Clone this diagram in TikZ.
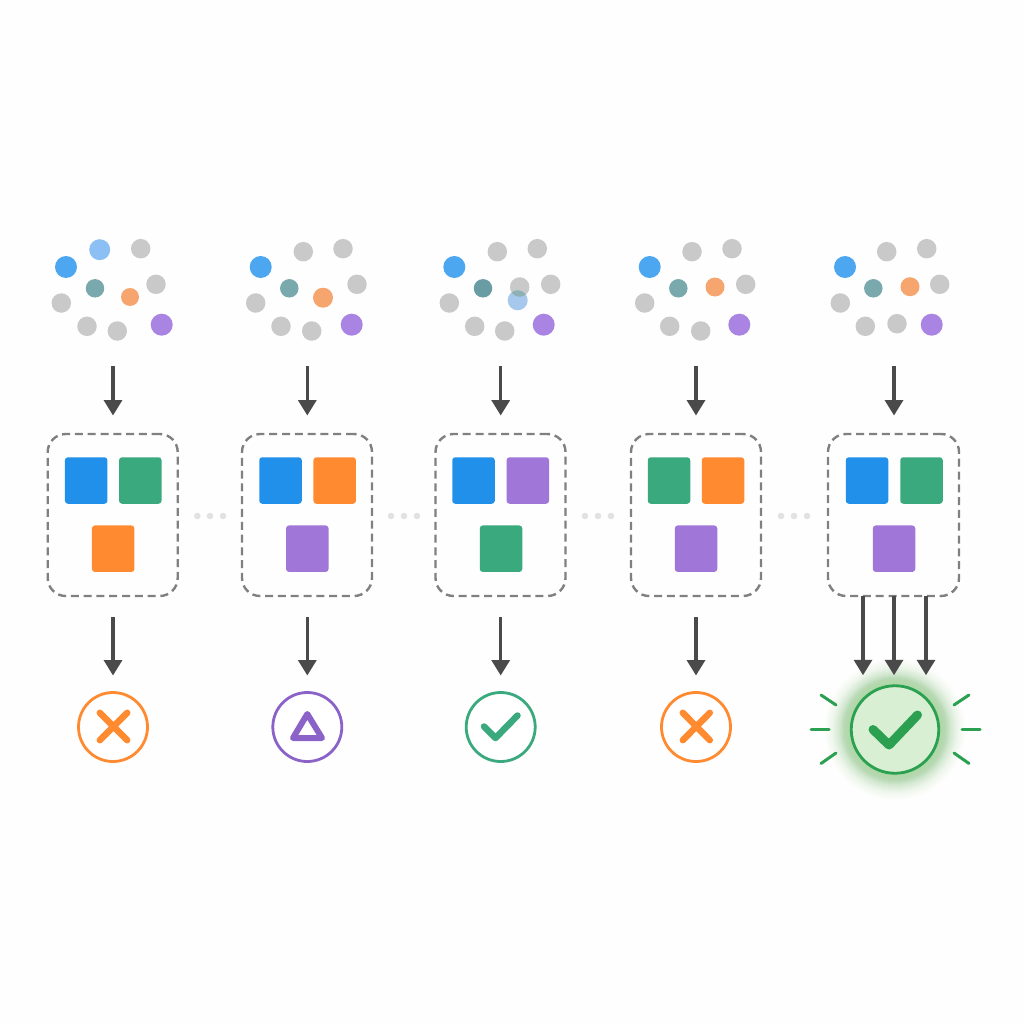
\documentclass[tikz,border=0pt]{standalone}
\usetikzlibrary{arrows.meta}
\definecolor{cblue}{HTML}{4DA6F0}
\definecolor{clblue}{HTML}{8CC0F5}
\definecolor{cgray}{HTML}{C9C9C9}
\definecolor{cteal}{HTML}{7AA9AD}
\definecolor{cdteal}{HTML}{6A9CA3}
\definecolor{corange}{HTML}{F7A56E}
\definecolor{cpurple}{HTML}{A984E3}
\definecolor{sblue}{HTML}{2090EA}
\definecolor{sgreen}{HTML}{3AA97E}
\definecolor{sorange}{HTML}{FF8A30}
\definecolor{spurple}{HTML}{A076D8}
\definecolor{arrowc}{HTML}{4A4A4A}
\definecolor{dashc}{HTML}{808080}
\definecolor{dotc}{HTML}{E2E2E2}
\definecolor{stpurple}{HTML}{8A62C8}
\definecolor{okgreen}{HTML}{2BA050}
\definecolor{okfill}{HTML}{D9EFD3}
\definecolor{glowc}{HTML}{9AD892}
\tikzset{
  dotbase/.style={circle,inner sep=0pt,outer sep=0pt,draw=none},
  gd/.style={dotbase,fill=cgray,minimum size=19.5pt},
  bd/.style={dotbase,fill=cblue,minimum size=22pt},
  ld/.style={dotbase,fill=clblue,minimum size=21pt},
  td/.style={dotbase,fill=cteal,minimum size=18.5pt},
  od/.style={dotbase,fill=corange,minimum size=19pt},
  vd/.style={dotbase,fill=cpurple,minimum size=22pt},
  sq/.style={rectangle,rounded corners=3pt,inner sep=0pt,outer sep=0pt,minimum width=42.5pt,minimum height=46.5pt},
  sb/.style={sq,fill=sblue}, sg/.style={sq,fill=sgreen}, so/.style={sq,fill=sorange}, sv/.style={sq,fill=spurple},
  groupbox/.style={rectangle,draw=dashc,line width=2.4pt,dash pattern=on 8pt off 4.8pt,rounded corners=18pt,minimum width=130pt,minimum height=162pt,inner sep=0pt,outer sep=0pt},
  arr/.style={draw=arrowc,line width=3.4pt,-{Triangle[width=18pt,length=15.5pt]}},
  gapdot/.style={dotbase,fill=dotc,minimum size=6.6pt},
  statusc/.style={circle,line width=2.8pt,fill=white,minimum size=69pt,inner sep=0pt,outer sep=0pt},
  glyph/.style={line cap=round,line join=round},
  ray/.style={draw=okgreen,line width=3pt,line cap=round}
}
\begin{document}
\begin{tikzpicture}[x=1pt,y=-1pt]
\useasboundingbox (0,0) rectangle (1024,1024);
\fill[white!99.5!black] (0,0) rectangle (1024,1024);
% cluster 1
\node[bd] (a1) at (66,267) {}; \node[ld] (a2) at (99.7,249.7) {}; \node[gd] (a3) at (140.7,248.7) {};
\node[td] (a4) at (95,288.3) {}; \node[od,minimum size=18pt] (a5) at (130,297) {}; \node[gd] (a6) at (156,284.3) {};
\node[gd] (a7) at (61.3,303) {}; \node[gd] (a8) at (87,326.3) {}; \node[gd] (a9) at (117.3,331) {}; \node[vd] (a10) at (161.7,324.7) {};
% cluster 2
\node[bd] (b1) at (260.7,267) {}; \node[gd] (b2) at (303.3,251.7) {}; \node[gd] (b3) at (343,248.7) {};
\node[td] (b4) at (289.3,288.3) {}; \node[od,minimum size=20pt] (b5) at (323,297.7) {}; \node[gd] (b6) at (357,284.3) {};
\node[gd] (b7) at (255.7,303) {}; \node[gd] (b8) at (281,326.3) {}; \node[gd] (b9) at (311.7,331) {}; \node[vd] (b10) at (351.7,324.7) {};
% cluster 3
\node[bd] (c1) at (454.3,267) {}; \node[gd] (c2) at (497.3,251.7) {}; \node[gd] (c3) at (537.3,248.7) {};
\node[td,fill=cdteal] (c4) at (483,288.3) {}; \node[gd] (c5) at (519.7,287) {};
\node[dotbase,fill=clblue!70!white!95!black,minimum size=20pt] (c11) at (517.7,300.3) {};
\begin{scope}
\clip (519.7,287) circle (9.75pt);
\fill[color=cteal!75!cgray] (517.7,300.3) circle (10pt);
\end{scope}
\node[gd] (c6) at (550.7,284.3) {};
\node[gd] (c7) at (449.3,303) {}; \node[gd] (c8) at (474.7,326.3) {}; \node[gd] (c9) at (504.7,331) {}; \node[vd] (c10) at (543.7,324.7) {};
% cluster 4
\node[bd] (d1) at (649.7,267) {}; \node[gd] (d2) at (692,251.7) {}; \node[gd] (d3) at (732,248.7) {};
\node[td] (d4) at (678.3,288.3) {}; \node[od] (d5) at (715,287) {}; \node[gd] (d6) at (745.7,284.3) {};
\node[gd] (d7) at (644.7,303) {}; \node[gd] (d8) at (669.7,326.3) {}; \node[gd] (d9) at (700.7,331) {}; \node[vd] (d10) at (739.3,324.7) {};
% cluster 5
\node[bd] (e1) at (845,267) {}; \node[gd] (e2) at (886.7,251.7) {}; \node[gd] (e3) at (926.7,248.7) {};
\node[td] (e4) at (873.3,288.3) {}; \node[od] (e5) at (910,286.7) {}; \node[gd] (e6) at (939.7,284.3) {};
\node[gd] (e7) at (840.3,303) {}; \node[gd] (e8) at (865.3,326.3) {}; \node[gd] (e9) at (897,323.7) {}; \node[vd] (e10) at (931.7,324.7) {};
% arrow starts
\coordinate (in1) at (113,366); \coordinate (in2) at (307.3,366); \coordinate (in3) at (500.7,366);
\coordinate (in4) at (696,366); \coordinate (in5) at (894,366);
% boxes
\node[groupbox] (box1) at (112.7,515) {};
\node[groupbox] (box2) at (307,515) {};
\node[groupbox] (box3) at (500.5,515) {};
\node[groupbox] (box4) at (696,515) {};
\node[groupbox,minimum width=131pt] (box5) at (893.5,515) {};
% squares
\node[sb] (s11) at (86.2,480.5) {}; \node[sg] (s12) at (140.3,480.5) {}; \node[so] (s13) at (113.2,548.7) {};
\node[sb] (s21) at (280.5,480.5) {}; \node[so] (s22) at (334.7,480.5) {}; \node[sv] (s23) at (307.3,548.7) {};
\node[sb] (s31) at (473.5,480.5) {}; \node[sv] (s32) at (527.8,480.5) {}; \node[sg] (s33) at (501,548.7) {};
\node[sg] (s41) at (669,480.5) {}; \node[so] (s42) at (723,480.5) {}; \node[sv] (s43) at (696,548.7) {};
\node[sb] (s51) at (867,480.5) {}; \node[sg] (s52) at (921.5,480.5) {}; \node[sv] (s53) at (894,548.7) {};
% gap dots
\foreach \n/\x in {1/197.3,2/210,3/223,4/391,5/404,6/417,7/585,8/598,9/611,10/781,11/794,12/807}
  \node[gapdot] (g\n) at (\x,516) {};
% glow: stacked translucent discs, denser near the ring
\foreach \r in {46,47,...,70}
  \fill[glowc,opacity=0.018] (895,729.5) circle (\r pt);
\foreach \r in {46,47,...,62}
  \fill[glowc,opacity=0.024] (895,729.5) circle (\r pt);
\foreach \r in {46,47,...,55}
  \fill[glowc,opacity=0.03] (895,729.5) circle (\r pt);
% status
\node[statusc,draw=sorange] (st1) at (113,727) {};
\node[statusc,draw=stpurple] (st2) at (307.3,727) {};
\node[statusc,draw=sgreen] (st3) at (500.7,727) {};
\node[statusc,draw=sorange] (st4) at (696,727) {};
\node[statusc,draw=okgreen,fill=okfill,minimum size=87.5pt] (st5) at (895,729.5) {};
% arrows
\draw[arr,shorten >=18.5pt] (in1) -- (box1.north -| in1);
\draw[arr,shorten >=18.5pt] (in2) -- (box2.north -| in2);
\draw[arr,shorten >=18.5pt] (in3) -- (box3.north -| in3);
\draw[arr,shorten >=18.5pt] (in4) -- (box4.north -| in4);
\draw[arr,shorten >=18.5pt] (in5) -- (box5.north -| in5);
\draw[arr,shorten <=21pt,shorten >=17pt] (box1.south -| st1) -- (st1.north);
\draw[arr,shorten <=21pt,shorten >=17pt] (box2.south -| st2) -- (st2.north);
\draw[arr,shorten <=21pt,shorten >=17pt] (box3.south -| st3) -- (st3.north);
\draw[arr,shorten <=21pt,shorten >=17pt] (box4.south -| st4) -- (st4.north);
\draw[arr,shorten >=10.5pt] ([xshift=-30.5pt]box5.south) -- ([xshift=-32pt]st5.north);
\draw[arr,shorten >=10.5pt] ([xshift=0.5pt]box5.south) -- ([xshift=-1pt]st5.north);
\draw[arr,shorten >=10.5pt] ([xshift=32.5pt]box5.south) -- ([xshift=31pt]st5.north);
% glyphs
\draw[glyph,draw=sorange,line width=6.5pt] (99.8,712.8) -- (127.2,740.2) (127.2,712.8) -- (99.8,740.2);
\draw[glyph,draw=stpurple,line width=6pt] (307.3,714) -- (293,738) -- (322,738) -- cycle;
\draw[glyph,draw=sgreen,line width=6.5pt] (484,726.5) -- (495.5,738) -- (517.5,715.5);
\draw[glyph,draw=sorange,line width=6.5pt] (682.8,712.8) -- (709.8,740.2) (709.8,712.8) -- (682.8,740.2);
\draw[glyph,draw=okgreen,line width=9pt] (873,729.5) -- (889,745) -- (917.5,715);
% rays
\draw[ray] (811,729.5) -- (829,729.5);
\draw[ray] (821,695) -- (836,705);
\draw[ray] (821,763.5) -- (836,753);
\draw[ray] (962,729.5) -- (980,729.5);
\draw[ray] (969,695) -- (954,705);
\draw[ray] (969,763.5) -- (954,753);
\end{tikzpicture}
\end{document}
